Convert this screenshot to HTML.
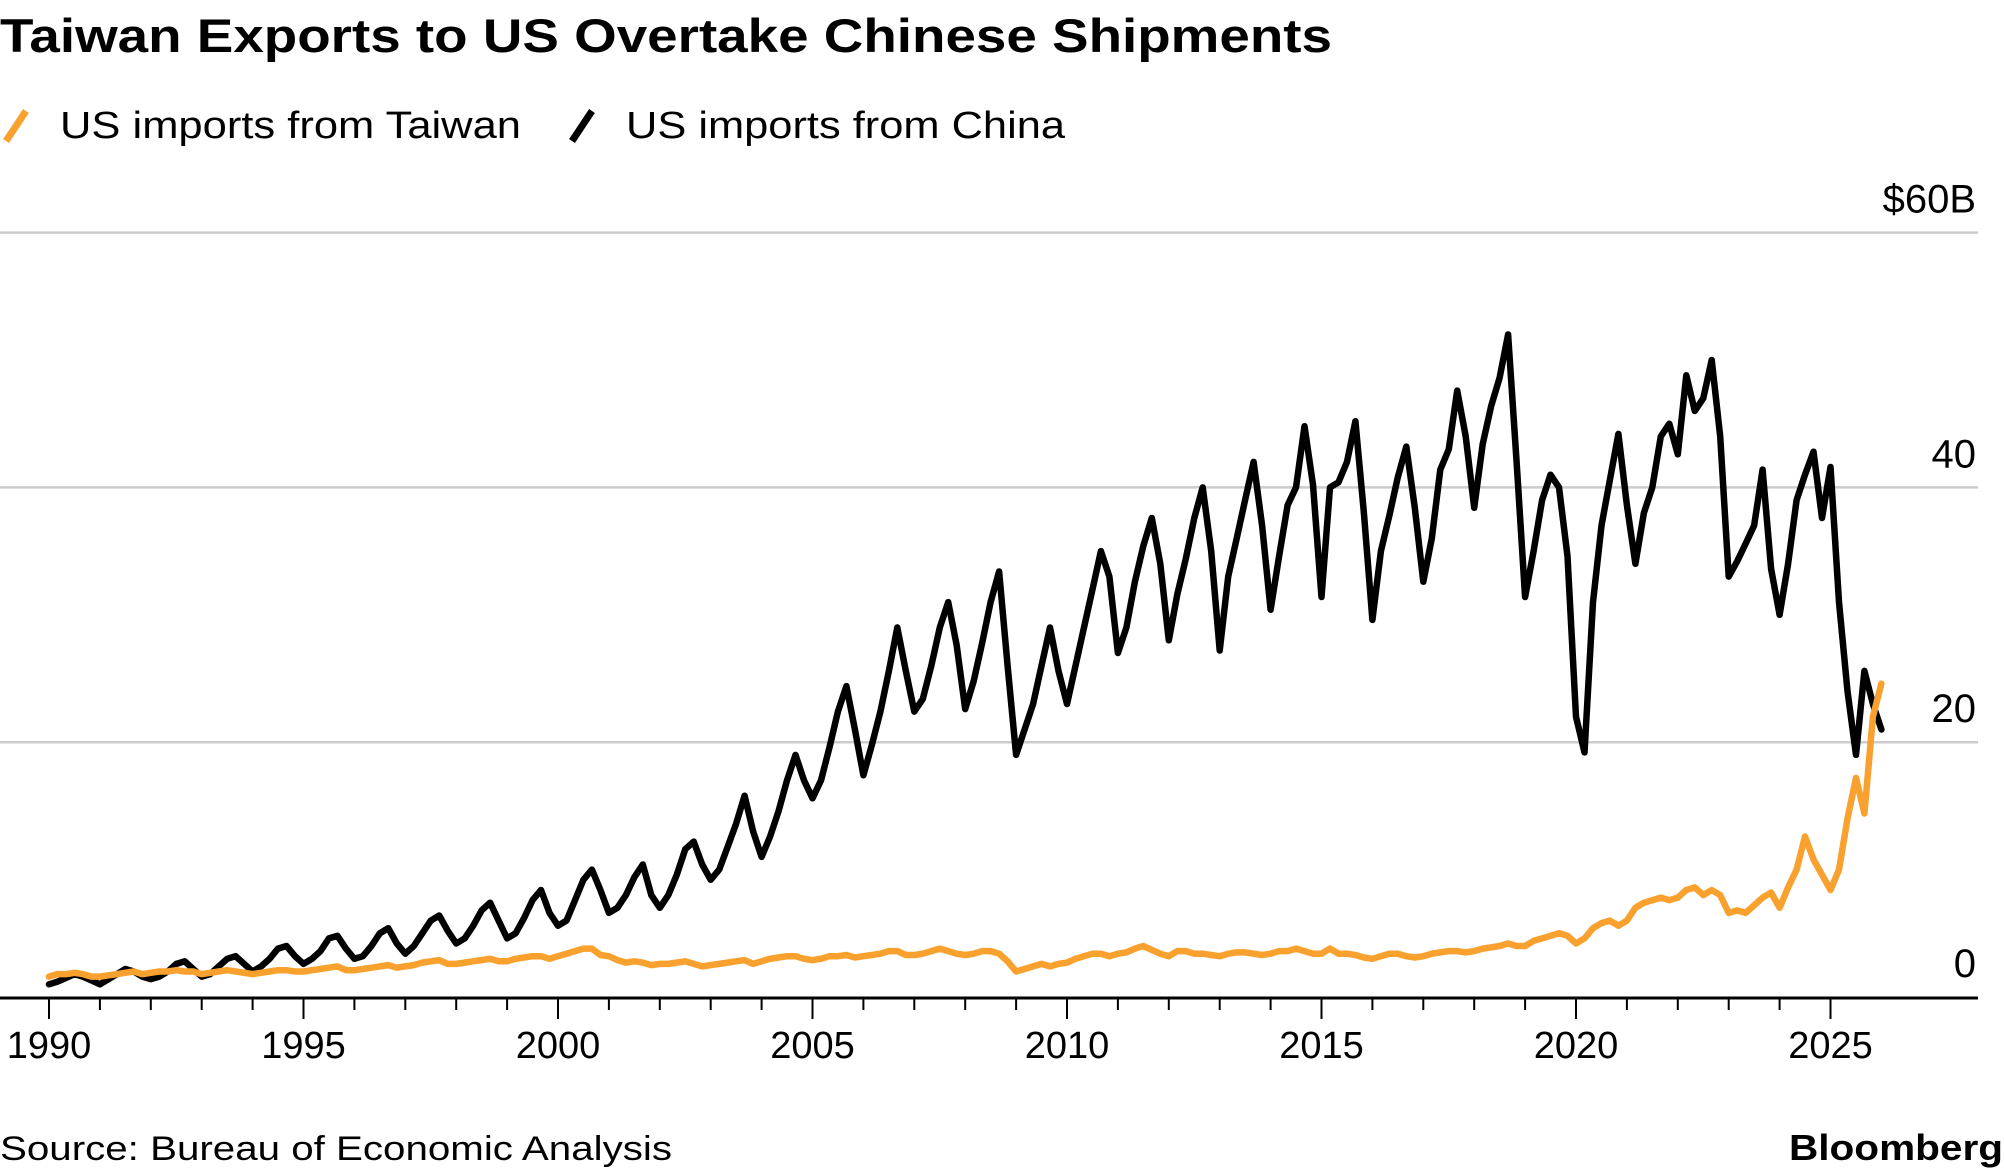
<!DOCTYPE html>
<html><head><meta charset="utf-8"><style>
html,body{margin:0;padding:0;background:#fff;}
svg{display:block;font-family:"Liberation Sans",Arial,sans-serif;}
</style></head><body>
<svg id="chart" width="2004" height="1176" viewBox="0 0 2004 1176">
<text x="0" y="52" font-size="47" font-weight="bold" fill="#000" textLength="1332" lengthAdjust="spacingAndGlyphs">Taiwan Exports to US Overtake Chinese Shipments</text>
<g>
<g>
<line x1="6" y1="141" x2="26" y2="111" stroke="#f9a12e" stroke-width="7"/>
<text x="60" y="138" font-size="38" fill="#000" textLength="461" lengthAdjust="spacingAndGlyphs">US imports from Taiwan</text>
</g>
<g>
<line x1="572" y1="141" x2="592" y2="111" stroke="#000" stroke-width="7"/>
<text x="626" y="138" font-size="38" fill="#000" textLength="439" lengthAdjust="spacingAndGlyphs">US imports from China</text>
</g>
</g>
<g id="grid"></g>
<g id="ylabels"></g>
<g id="series"></g>
<g id="xaxis"></g>
<text x="0" y="1160" font-size="34" fill="#000" textLength="672" lengthAdjust="spacingAndGlyphs">Source: Bureau of Economic Analysis</text>
<text x="2003" y="1160" font-size="36" font-weight="bold" fill="#000" text-anchor="end" textLength="214" lengthAdjust="spacingAndGlyphs">Bloomberg</text>
</svg>
<script>
const yTicks = [0, 20, 40, 60];
const yTickLabels = ["0", "20", "40", "$60B"];
const xTickYears = [1990,1991,1992,1993,1994,1995,1996,1997,1998,1999,2000,2001,2002,2003,2004,2005,2006,2007,2008,2009,2010,2011,2012,2013,2014,2015,2016,2017,2018,2019,2020,2021,2022,2023,2024,2025];
const xLabelYears = [1990,1995,2000,2005,2010,2015,2020,2025];
const startYear = 1990;
const pointsPerYear = 6;
const chinaValues = [
1.0,1.2,1.5,1.8,1.6,1.3,
1.0,1.4,1.8,2.2,2.0,1.6,
1.4,1.6,2.0,2.6,2.8,2.2,
1.6,1.8,2.4,3.0,3.2,2.6,
2.0,2.4,3.0,3.8,4.0,3.2,
2.6,3.0,3.6,4.6,4.8,3.8,
3.0,3.2,4.0,5.0,5.4,4.2,
3.4,4.0,5.0,6.0,6.4,5.2,
4.2,4.6,5.6,6.8,7.4,6.0,
4.6,5.0,6.2,7.6,8.4,6.6,
5.6,6.0,7.6,9.2,10.0,8.4,
6.6,7.0,8.0,9.4,10.4,8.0,
7.0,8.0,9.6,11.6,12.2,10.4,
9.2,10.0,11.8,13.6,15.8,13.0,
11.0,12.6,14.6,17.0,19.0,17.0,
15.6,17.0,19.6,22.4,24.4,21.0,
17.4,19.8,22.4,25.6,29.0,25.6,
22.4,23.4,26.0,29.0,31.0,27.6,
22.6,24.8,27.8,31.0,33.4,26.0,
19.0,21.0,23.0,26.0,29.0,25.6,
23.0,26.0,29.0,32.0,35.0,33.0,
27.0,29.0,32.6,35.4,37.6,34.0,
28.0,31.6,34.4,37.6,40.0,35.0,
27.2,33.0,36.0,39.0,42.0,37.0,
30.4,34.6,38.6,40.0,44.8,40.2,
31.4,40.0,40.4,42.0,45.2,38.0,
29.6,35.0,37.8,40.8,43.2,38.4,
32.6,36.0,41.4,43.0,47.6,44.0,
38.4,43.4,46.4,48.6,52.0,42.0,
31.4,35.0,39.0,41.0,40.0,34.6,
22.0,19.2,31.0,37.0,40.6,44.2,
38.6,34.0,38.0,40.0,44.0,45.0,
42.6,48.8,46.0,47.0,50.0,44.0,
33.0,34.2,35.6,37.0,41.4,33.6,
30.0,34.0,39.0,41.0,42.8,37.6,
41.6,31.0,24.0,19.0,25.6,23.0,
21.0];
const taiwanValues = [
1.6,1.8,1.8,1.9,1.8,1.6,
1.6,1.7,1.8,1.9,2.0,1.8,
1.9,2.0,2.0,2.1,2.0,2.0,
1.8,1.9,2.0,2.1,2.0,1.9,
1.8,1.9,2.0,2.1,2.1,2.0,
2.0,2.1,2.2,2.3,2.4,2.1,
2.1,2.2,2.3,2.4,2.5,2.3,
2.4,2.5,2.7,2.8,2.9,2.6,
2.6,2.7,2.8,2.9,3.0,2.8,
2.8,3.0,3.1,3.2,3.2,3.0,
3.2,3.4,3.6,3.8,3.8,3.3,
3.2,2.9,2.7,2.8,2.7,2.5,
2.6,2.6,2.7,2.8,2.6,2.4,
2.5,2.6,2.7,2.8,2.9,2.6,
2.8,3.0,3.1,3.2,3.2,3.0,
2.9,3.0,3.2,3.2,3.3,3.1,
3.2,3.3,3.4,3.6,3.6,3.3,
3.3,3.4,3.6,3.8,3.6,3.4,
3.3,3.4,3.6,3.6,3.4,2.8,
2.0,2.2,2.4,2.6,2.4,2.6,
2.7,3.0,3.2,3.4,3.4,3.2,
3.4,3.5,3.8,4.0,3.7,3.4,
3.2,3.6,3.6,3.4,3.4,3.3,
3.2,3.4,3.5,3.5,3.4,3.3,
3.4,3.6,3.6,3.8,3.6,3.4,
3.4,3.8,3.4,3.4,3.3,3.1,
3.0,3.2,3.4,3.4,3.2,3.1,
3.2,3.4,3.5,3.6,3.6,3.5,
3.6,3.8,3.9,4.0,4.2,4.0,
4.0,4.4,4.6,4.8,5.0,4.8,
4.2,4.6,5.4,5.8,6.0,5.6,
6.0,7.0,7.4,7.6,7.8,7.6,
7.8,8.4,8.6,8.0,8.4,8.0,
6.6,6.8,6.6,7.2,7.8,8.2,
7.0,8.6,10.0,12.6,10.8,9.6,
8.4,10.0,14.0,17.2,14.4,22.0,
24.6];

const NS = "http://www.w3.org/2000/svg";
function xScale(year){ return 49 + (year - 1990) * 50.9; }
function yScale(v){ return 997 - v * 12.74; }
function mk(tag, attrs, parent){ const e = document.createElementNS(NS, tag); for (const k in attrs) e.setAttribute(k, attrs[k]); parent.appendChild(e); return e; }

const grid = document.getElementById('grid');
const ylab = document.getElementById('ylabels');
yTicks.forEach((t, i) => {
  if (t !== 0) {
    const ln = mk('line', {x1:0, x2:1978, y1:yScale(t), y2:yScale(t), stroke:'#cccccc', 'stroke-width':2.5}, grid);
    
    
  }
  const tx = mk('text', {x:1976, y:yScale(t) - 20, 'font-size':40, 'text-anchor':'end', fill:'#000'}, ylab);
  tx.textContent = yTickLabels[i];
  
  
});

const series = document.getElementById('series');
function drawLine(vals, color, name){
  const pts = vals.map((v, i) => xScale(startYear + i / pointsPerYear).toFixed(1) + ',' + yScale(v).toFixed(1)).join(' ');
  const pl = mk('polyline', {points:pts, fill:'none', stroke:color, 'stroke-width':6.5, 'stroke-linejoin':'round', 'stroke-linecap':'round'}, series);
  
  
}
drawLine(chinaValues, '#000000', 'china-line');
drawLine(taiwanValues, '#f9a12e', 'taiwan-line');

const xa = document.getElementById('xaxis');
const axisLine = mk('line', {x1:0, x2:1978, y1:998, y2:998, stroke:'#000', 'stroke-width':3}, xa);


xTickYears.forEach(yr => {
  const major = xLabelYears.includes(yr);
  const tk = mk('line', {x1:xScale(yr), x2:xScale(yr), y1:998, y2: major ? 1019 : 1010, stroke:'#000', 'stroke-width':2}, xa);
  
  
});
xLabelYears.forEach(yr => {
  const tx = mk('text', {x:xScale(yr), y:1058, 'font-size':38, 'text-anchor':'middle', fill:'#000'}, xa);
  tx.textContent = String(yr);
  
  
});
</script>
</body></html>
